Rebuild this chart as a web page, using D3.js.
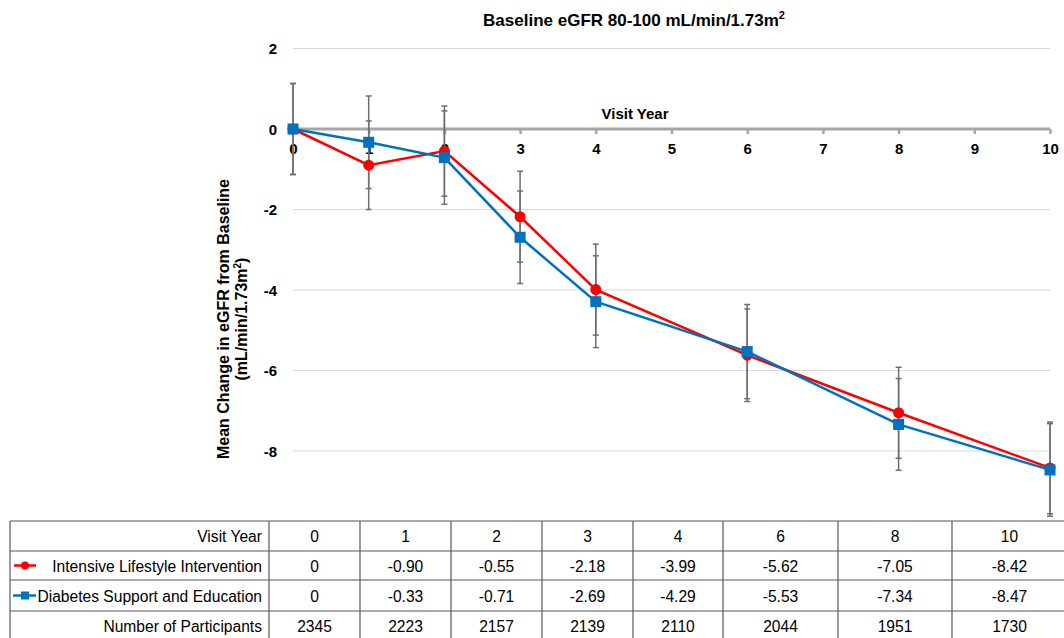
<!DOCTYPE html>
<html><head><meta charset="utf-8">
<script src="https://cdn.jsdelivr.net/npm/d3@7"></script>
<style>
body{margin:0;background:#fff;}
svg{display:block;font-family:"Liberation Sans",Arial,sans-serif;}
</style></head><body>
<svg id="c" width="1064" height="638"></svg>
<script>
const years = [0, 1, 2, 3, 4, 6, 8, 10];
const iliValues = [0, -0.90, -0.55, -2.18, -3.99, -5.62, -7.05, -8.42];
const dseValues = [0, -0.33, -0.71, -2.69, -4.29, -5.53, -7.34, -8.47];
const iliErr = [1.13, 1.10, 1.12, 1.13, 1.13, 1.15, 1.13, 1.14];
const dseErr = [1.13, 1.15, 1.16, 1.15, 1.14, 1.17, 1.14, 1.15];
const participants = [2345, 2223, 2157, 2139, 2110, 2044, 1951, 1730];
const xTicks = [0, 1, 2, 3, 4, 5, 6, 7, 8, 9, 10];
const yTicks = [2, 0, -2, -4, -6, -8];
const iliLabels = ["0", "-0.90", "-0.55", "-2.18", "-3.99", "-5.62", "-7.05", "-8.42"];
const dseLabels = ["0", "-0.33", "-0.71", "-2.69", "-4.29", "-5.53", "-7.34", "-8.47"];
const seriesNames = ["Intensive Lifestyle Intervention", "Diabetes Support and Education"];

const svg = d3.select("#c");
const x = d3.scaleLinear().domain([0, 10]).range([293, 1050]);
const y = d3.scaleLinear().domain([-10, 2]).range([531.5, 48.5]);
const RED = "#ff0000", BLUE = "#0070c0";

// title
svg.append("text").attr("x", 634).attr("y", 26).attr("text-anchor", "middle")
  .attr("font-weight", "bold").attr("font-size", 17)
  .html('Baseline eGFR 80-100 mL/min/1.73m<tspan dy="-7" font-size="11">2</tspan>');

// gridlines
svg.append("g").selectAll("line").data(yTicks.filter(d => d !== 0)).join("line")
  .attr("x1", x(0)).attr("x2", x(10)).attr("y1", d => y(d)).attr("y2", d => y(d))
  .attr("stroke", "#d9d9d9").attr("stroke-width", 1);

// y tick labels
svg.append("g").selectAll("text").data(yTicks).join("text")
  .attr("x", 277).attr("y", d => y(d) + 5.5).attr("text-anchor", "end")
  .attr("font-weight", "bold").attr("font-size", 15).text(d => d);

// y axis title
const yt = svg.append("text").attr("transform", "translate(229,319) rotate(-90)")
  .attr("text-anchor", "middle").attr("font-weight", "bold").attr("font-size", 16);
yt.append("tspan").attr("x", 0).attr("dy", 0).text("Mean Change in eGFR from Baseline");
yt.append("tspan").attr("x", 0).attr("dy", 18).text("(mL/min/1.73m");
yt.append("tspan").attr("dy", -6).attr("font-size", 10).text("2");
yt.append("tspan").attr("dy", 6).text(")");

// zero axis with ticks
const xAxis = d3.axisBottom(x).tickValues(xTicks).tickSize(5).tickFormat(d3.format("d"));
const ax = svg.append("g").attr("transform", `translate(0,${y(0)})`).call(xAxis);
ax.select(".domain").attr("stroke", "#a6a6a6").attr("stroke-width", 3).attr("d", `M${x(0)},0H${x(10)}`);
ax.selectAll(".tick line").attr("stroke", "#a6a6a6").attr("stroke-width", 2.5);
ax.selectAll(".tick text").attr("font-family", null).attr("font-size", 15).attr("font-weight", "bold")
  .attr("fill", "#000").attr("y", 14);
svg.append("text").attr("x", 635).attr("y", 119).attr("text-anchor", "middle")
  .attr("font-weight", "bold").attr("font-size", 15).text("Visit Year");

// error bars
function errBars(vals, errs) {
  const g = svg.append("g").attr("stroke", "#6f6f6f").attr("stroke-width", 1.5);
  years.forEach((yr, i) => {
    const cx = x(yr), top = y(vals[i] + errs[i]), bot = y(vals[i] - errs[i]);
    g.append("line").attr("x1", cx).attr("x2", cx).attr("y1", top).attr("y2", bot);
    g.append("line").attr("x1", cx - 3).attr("x2", cx + 3).attr("y1", top).attr("y2", top);
    g.append("line").attr("x1", cx - 3).attr("x2", cx + 3).attr("y1", bot).attr("y2", bot);
  });
}
errBars(iliValues, iliErr);
errBars(dseValues, dseErr);

// lines
const line = d3.line().x((d, i) => x(years[i])).y(d => y(d));
svg.append("path").datum(iliValues).attr("d", line).attr("fill", "none").attr("stroke", RED).attr("stroke-width", 2.5);
svg.append("path").datum(dseValues).attr("d", line).attr("fill", "none").attr("stroke", BLUE).attr("stroke-width", 2.5);
svg.append("g").selectAll("circle").data(iliValues).join("circle")
  .attr("cx", (d, i) => x(years[i])).attr("cy", d => y(d)).attr("r", 5.5).attr("fill", RED);
svg.append("g").selectAll("rect").data(dseValues).join("rect")
  .attr("x", (d, i) => x(years[i]) - 5.5).attr("y", d => y(d) - 5.5)
  .attr("width", 11).attr("height", 11).attr("fill", BLUE);

// table
const colEdges = [10, 269, 360, 451, 542, 633, 723, 838, 952, 1067];
const rowEdges = [521, 551, 580, 611, 641];
const rows = [
  ["Visit Year", years.map(String)],
  [seriesNames[0], iliLabels],
  [seriesNames[1], dseLabels],
  ["Number of Participants", participants.map(String)]
];
const tb = svg.append("g");
tb.append("rect").attr("x", 10).attr("y", 521).attr("width", 1060).attr("height", 120).attr("fill", "#fff");
const tl = tb.append("g").attr("stroke", "#595959").attr("stroke-width", 1.2);
rowEdges.forEach(r => tl.append("line").attr("x1", 10).attr("x2", 1064).attr("y1", r).attr("y2", r));
colEdges.forEach(c => tl.append("line").attr("x1", c).attr("x2", c).attr("y1", 521).attr("y2", 641));
rows.forEach((row, ri) => {
  const cy = (rowEdges[ri] + rowEdges[ri + 1]) / 2 + 6;
  tb.append("text").attr("x", 262).attr("y", cy).attr("text-anchor", "end").attr("font-size", 15.6).text(row[0]);
  row[1].forEach((v, ci) => {
    tb.append("text").attr("x", (colEdges[ci + 1] + colEdges[ci + 2]) / 2).attr("y", cy)
      .attr("text-anchor", "middle").attr("font-size", 15.6).text(v);
  });
});
// legend keys
const ly1 = (rowEdges[1] + rowEdges[2]) / 2, ly2 = (rowEdges[2] + rowEdges[3]) / 2;
tb.append("line").attr("x1", 14).attr("x2", 36).attr("y1", ly1).attr("y2", ly1).attr("stroke", RED).attr("stroke-width", 2.5);
tb.append("circle").attr("cx", 25).attr("cy", ly1).attr("r", 4).attr("fill", RED);
tb.append("line").attr("x1", 13).attr("x2", 36).attr("y1", ly2).attr("y2", ly2).attr("stroke", BLUE).attr("stroke-width", 2.5);
tb.append("rect").attr("x", 21).attr("y", ly2 - 4).attr("width", 8).attr("height", 8).attr("fill", BLUE);
</script></body></html>
